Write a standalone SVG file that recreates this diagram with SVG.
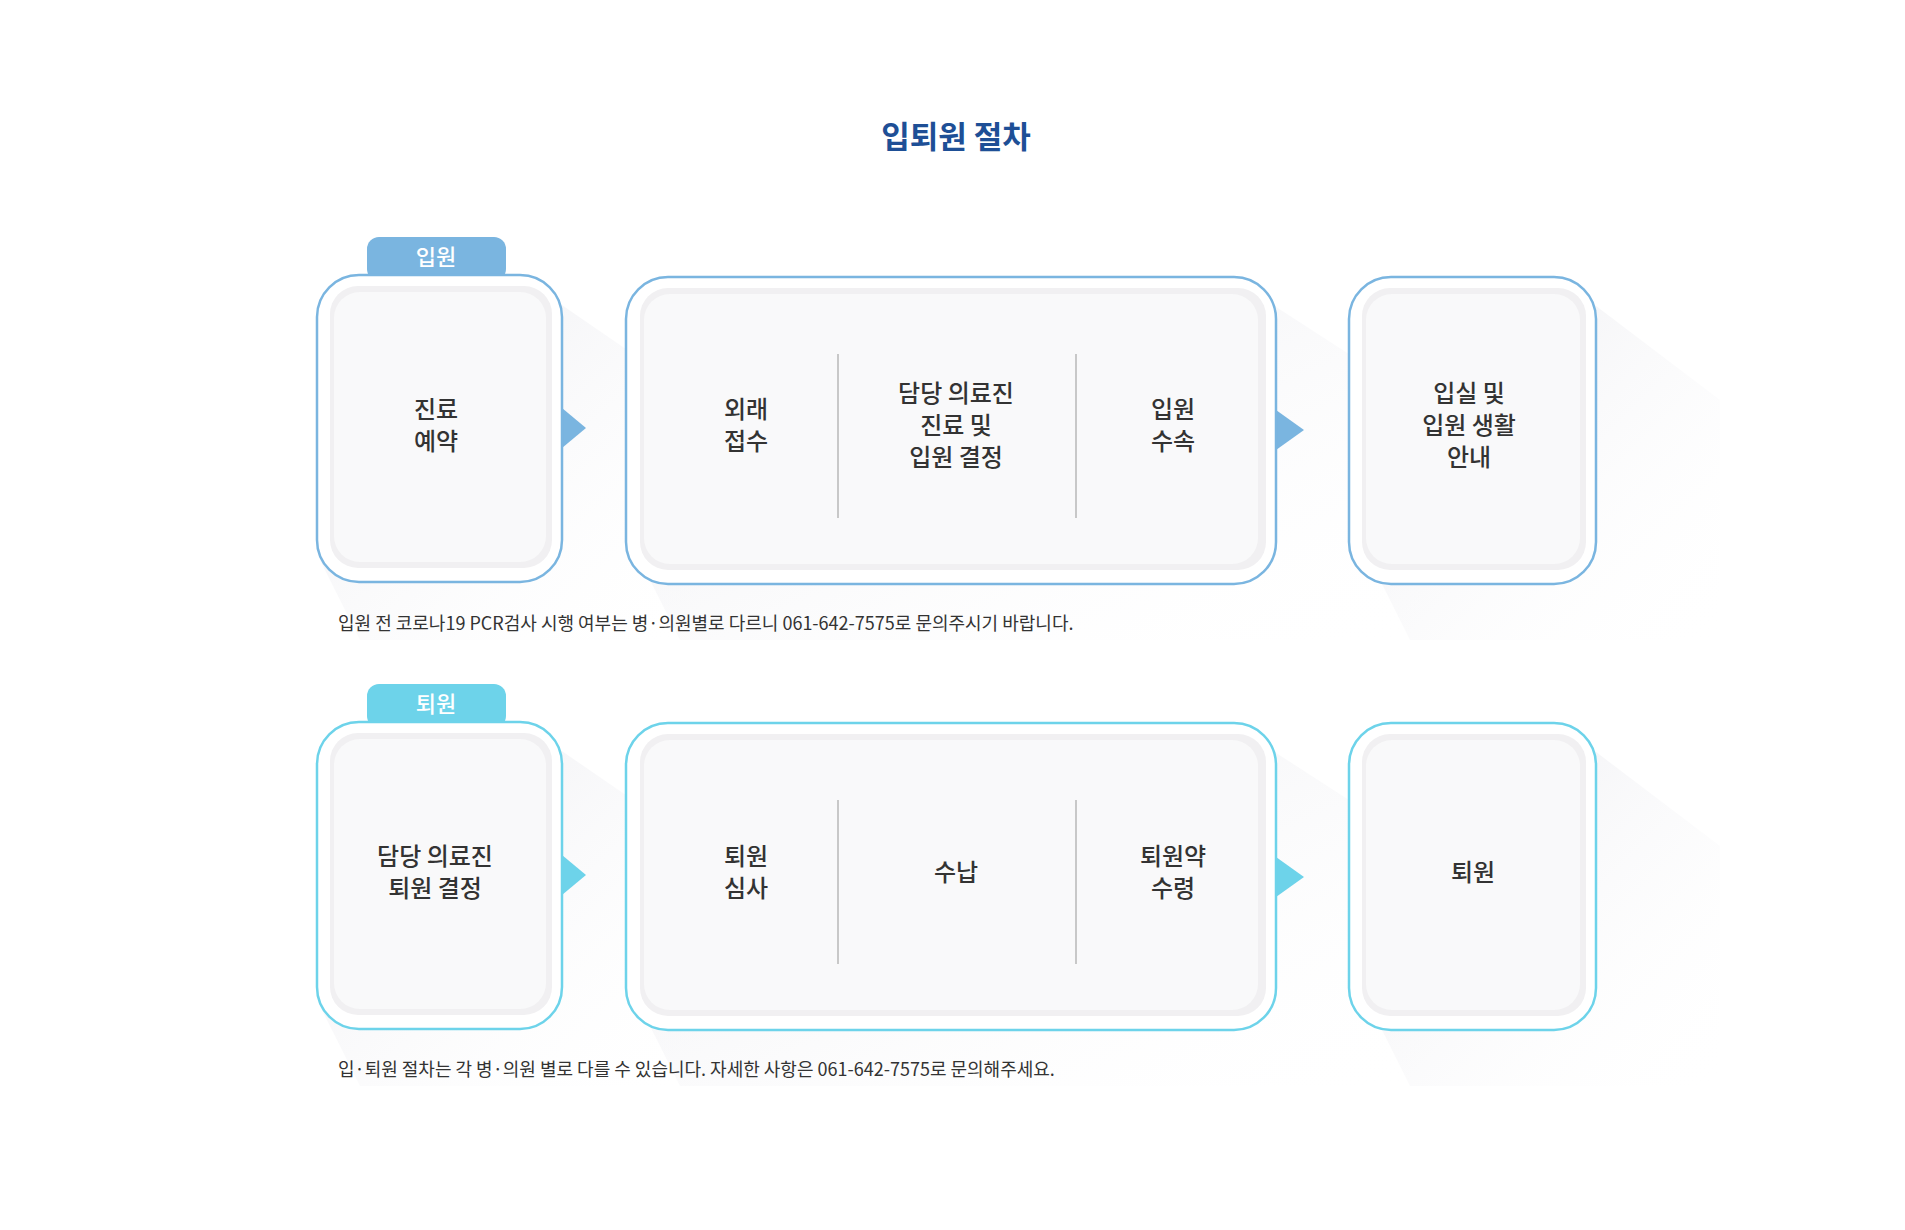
<svg xmlns="http://www.w3.org/2000/svg" width="1905" height="1230" viewBox="0 0 1905 1230">
<defs>
<linearGradient id="sh" x1="0" y1="0" x2="1" y2="1"><stop offset="0" stop-color="#e9e9ee" stop-opacity="0.9"/><stop offset="1" stop-color="#ffffff" stop-opacity="0"/></linearGradient>
<style>
.t{font-family:"Noto Sans CJK KR","Noto Sans",sans-serif;fill:#333;font-size:24px;text-anchor:middle;font-weight:500}
.n{font-family:"Noto Sans CJK KR","Noto Sans",sans-serif;fill:#333;font-size:18px}
.tab{font-family:"Noto Sans CJK KR",sans-serif;fill:#fff;font-size:22px;text-anchor:middle;font-weight:500}
.inner{fill:#f9f9fa}
.in2{fill:#f1f0f2}
.b{fill:#fff;stroke:#7ab5e0;stroke-width:2.5}
.c{fill:#fff;stroke:#6dd3ea;stroke-width:2.5}
.sh{fill:url(#sh)}
.dv{stroke:#c8c8c8;stroke-width:2}
</style>
</defs>
<rect width="1905" height="1230" fill="#fff"/>
<text x="956" y="148" font-family="Noto Sans CJK KR,sans-serif" font-size="31" font-weight="700" fill="#1e4f96" text-anchor="middle">입퇴원 절차</text>
<g id="shadows">
<polygon class="sh" points="540,290 700,400 700,640 360,640 320,560"/>
<polygon class="sh" points="1250,290 1420,400 1420,640 680,640 640,560"/>
<polygon class="sh" points="1575,290 1720,400 1720,640 1410,640 1370,560"/>
<polygon class="sh" points="540,736 700,846 700,1086 360,1086 320,1006"/>
<polygon class="sh" points="1250,736 1420,846 1420,1086 680,1086 640,1006"/>
<polygon class="sh" points="1575,736 1720,846 1720,1086 1410,1086 1370,1006"/>
</g>
<g id="connectors">
<polygon points="562,408 586,428 562,448" fill="#7ab5e0"/>
<polygon points="1276,410 1304,430 1276,450" fill="#7ab5e0"/>
<polygon points="562,855 586,875 562,895" fill="#6dd3ea"/>
<polygon points="1276,857 1304,877 1276,897" fill="#6dd3ea"/>
</g>
<g id="admit-tab"><rect x="367" y="237" width="139" height="44" rx="12" fill="#7ab5e0"/><text class="tab" x="436" y="265">입원</text></g>
<g id="n1"><rect class="b" x="317" y="275" width="245" height="307" rx="42"/><rect class="in2" x="330" y="286" width="222" height="282" rx="28"/><rect class="inner" x="334" y="292" width="212" height="270" rx="26"/>
<text class="t" x="436" y="418">진료</text><text class="t" x="436" y="450">예약</text></g>
<g id="n2"><rect class="b" x="626" y="277" width="650" height="307" rx="42"/><rect class="in2" x="640" y="288" width="626" height="282" rx="28"/><rect class="inner" x="644" y="294" width="614" height="270" rx="26"/>
<line class="dv" x1="838" y1="354" x2="838" y2="518"/><line class="dv" x1="1076" y1="354" x2="1076" y2="518"/>
<text class="t" x="746" y="418">외래</text><text class="t" x="746" y="450">접수</text>
<text class="t" x="956" y="402">담당 의료진</text><text class="t" x="956" y="434">진료 및</text><text class="t" x="956" y="466">입원 결정</text>
<text class="t" x="1173" y="418">입원</text><text class="t" x="1173" y="450">수속</text></g>
<g id="n3"><rect class="b" x="1349" y="277" width="247" height="307" rx="42"/><rect class="in2" x="1362" y="288" width="224" height="282" rx="28"/><rect class="inner" x="1366" y="294" width="214" height="270" rx="26"/>
<text class="t" x="1469" y="402">입실 및</text><text class="t" x="1469" y="434">입원 생활</text><text class="t" x="1469" y="466">안내</text></g>
<text class="n" x="338" y="630">입원 전 코로나19 PCR검사 시행 여부는 병·의원별로 다르니 061-642-7575로 문의주시기 바랍니다.</text>

<g id="discharge-tab"><rect x="367" y="684" width="139" height="44" rx="12" fill="#6dd3ea"/><text class="tab" x="436" y="712">퇴원</text></g>
<g id="m1"><rect class="c" x="317" y="722" width="245" height="307" rx="42"/><rect class="in2" x="330" y="733" width="222" height="282" rx="28"/><rect class="inner" x="334" y="739" width="212" height="270" rx="26"/>
<text class="t" x="435" y="865">담당 의료진</text><text class="t" x="435" y="897">퇴원 결정</text></g>
<g id="m2"><rect class="c" x="626" y="723" width="650" height="307" rx="42"/><rect class="in2" x="640" y="734" width="626" height="282" rx="28"/><rect class="inner" x="644" y="740" width="614" height="270" rx="26"/>
<line class="dv" x1="838" y1="800" x2="838" y2="964"/><line class="dv" x1="1076" y1="800" x2="1076" y2="964"/>
<text class="t" x="746" y="865">퇴원</text><text class="t" x="746" y="897">심사</text>
<text class="t" x="956" y="881">수납</text>
<text class="t" x="1173" y="865">퇴원약</text><text class="t" x="1173" y="897">수령</text></g>
<g id="m3"><rect class="c" x="1349" y="723" width="247" height="307" rx="42"/><rect class="in2" x="1362" y="734" width="224" height="282" rx="28"/><rect class="inner" x="1366" y="740" width="214" height="270" rx="26"/>
<text class="t" x="1473" y="881">퇴원</text></g>
<text class="n" x="338" y="1076">입·퇴원 절차는 각 병·의원 별로 다를 수 있습니다. 자세한 사항은 061-642-7575로 문의해주세요.</text>
</svg>
